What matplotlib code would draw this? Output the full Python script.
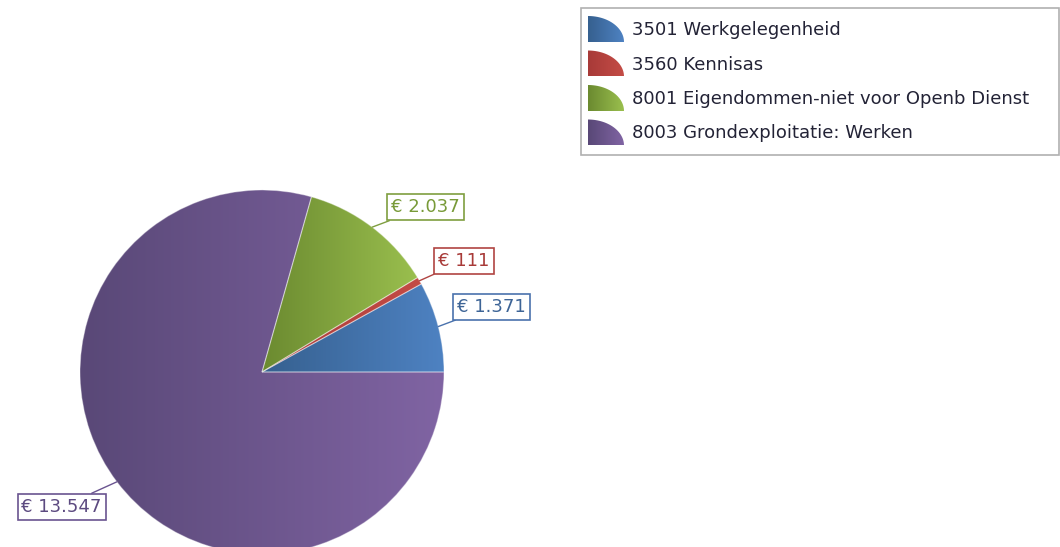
import numpy as np
import matplotlib
matplotlib.use("Agg")
import matplotlib.pyplot as plt
from matplotlib.colors import LinearSegmentedColormap
from matplotlib.patches import Rectangle, PathPatch
from matplotlib.path import Path

# ---------- Data ----------
labels = ["3501 Werkgelegenheid", "3560 Kennisas",
          "8001 Eigendommen-niet voor Openb Dienst", "8003 Grondexploitatie: Werken"]
values = [1371, 111, 2037, 13547]
value_text = ["€ 1.371", "€ 111", "€ 2.037", "€ 13.547"]

# gradient (dark, light) per slice, plus label colours
grad = [("#36608f", "#4e82c2"), ("#a83a38", "#c44c46"),
        ("#6b8a30", "#9abf4e"), ("#594877", "#8064a3")]
label_col = ["#4a72ad", "#b04442", "#7f9e40", "#6a5490"]
text_col = ["#3d6496", "#a83a38", "#789a38", "#5c4a80"]

fig = plt.figure(figsize=(10.6, 5.47), dpi=100)
ax = fig.add_axes([0, 0, 1, 1])


def fix_axes():
    ax.set_xlim(0, 1060)
    ax.set_ylim(547, 0)
    ax.set_aspect("equal")
    ax.axis("off")


cx, cy, r = 262, 372, 182
# y axis is inverted, so counterclock=False runs upward on screen
wedges, _ = ax.pie(values, center=(cx, cy), radius=r, startangle=0,
                   counterclock=False, frame=True,
                   wedgeprops=dict(facecolor="none", edgecolor="none"))
fix_axes()

for w, (c0, c1) in zip(wedges, grad):
    cmap = LinearSegmentedColormap.from_list("g", [c0, c1])
    ext = w.get_path().get_extents(w.get_patch_transform())
    img = np.linspace(0, 1, 256).reshape(1, -1)
    im = ax.imshow(img, cmap=cmap, aspect="auto",
                   extent=(ext.x0, ext.x1, ext.y1, ext.y0), zorder=1)
    im.set_clip_path(w)
    w.set_edgecolor((1, 1, 1, 0.35))
    w.set_linewidth(0.8)
    w.set_zorder(2)
fix_axes()

# ---------- Labels ----------
for w, t, ec, tc in zip(wedges, value_text, label_col, text_col):
    mid = np.deg2rad((w.theta1 + w.theta2) / 2)
    ex, ey = cx + r * np.cos(mid), cy + r * np.sin(mid)
    if np.cos(mid) >= 0:
        off, ha = (19, 20), "left"
    else:
        off, ha = (-15, -25), "right"
    ax.annotate(t, xy=(ex, ey), xytext=off, textcoords="offset pixels",
                ha=ha, va="center", fontsize=13, color=tc,
                bbox=dict(boxstyle="square,pad=0.22", fc="white", ec=ec, lw=1.2),
                arrowprops=dict(arrowstyle="-", color=ec, lw=1,
                                shrinkA=0, shrinkB=0), zorder=5)

# ---------- Legend ----------
ax.add_patch(Rectangle((581, 8), 478, 147, fc="white", ec="#b0b0b0", lw=1.2, zorder=3))
th = np.linspace(0, np.pi / 2, 30)
iw, ih = 36, 26
for i, (lab, (c0, c1)) in enumerate(zip(labels, grad)):
    y = 30 + i * 34.5
    x0, yb = 588, y + 12
    verts = [(x0, yb)] + [(x0 + iw * np.cos(a), yb - ih * np.sin(a)) for a in th] + [(x0, yb)]
    q = PathPatch(Path(verts), fc="none", ec="none", zorder=4)
    ax.add_patch(q)
    cmap = LinearSegmentedColormap.from_list("g", [c0, c1])
    im = ax.imshow(np.linspace(0, 1, 64).reshape(1, -1), cmap=cmap, aspect="auto",
                   extent=(x0, x0 + iw, yb, yb - ih), zorder=4)
    im.set_clip_path(q)
    ax.text(632, y, lab, fontsize=13, color="#232336", va="center", ha="left", zorder=5)
fix_axes()

fig.savefig("out.png", dpi=100)
